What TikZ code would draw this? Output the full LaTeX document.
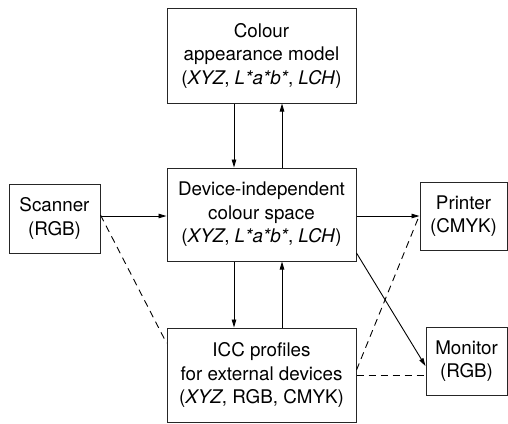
\documentclass[tikz,border=0pt]{standalone}
\usepackage{fontspec}
\setmainfont{TeX Gyre Heros}
\usetikzlibrary{arrows.meta}
\begin{document}
\begin{tikzpicture}[x=1pt,y=-1pt,
  box/.style={draw=black!85,line width=1pt,align=center,inner sep=0pt,
    font=\fontsize{18.8}{23.5}\selectfont},
  conn/.style={line width=0.9pt,-{Triangle[length=8pt,width=4.5pt]}},
  dconn/.style={line width=0.9pt,dash pattern=on 7pt off 5pt}]
\useasboundingbox (0,0) rectangle (508,423);
\node[box,minimum width=189pt,minimum height=95pt] (top) at (261.5,55.5)
  {Colour\\appearance model\\(\textit{XYZ}, \textit{L*a*b*}, \textit{LCH})};
\node[box,minimum width=189pt,minimum height=93pt] (mid) at (261.5,214.5)
  {Device-independent\\colour space\\(\textit{XYZ}, \textit{L*a*b*}, \textit{LCH})};
\node[box,minimum width=189pt,minimum height=94pt] (icc) at (261.5,375)
  {ICC profiles\\for external devices\\(\textit{XYZ}, RGB, CMYK)};
\node[box,minimum width=91pt,minimum height=69pt] (scan) at (54.5,218.5)
  {Scanner\\(RGB)};
\node[box,minimum width=87pt,minimum height=68pt] (prn) at (463.5,216)
  {Printer\\(CMYK)};
\node[box,minimum width=81pt,minimum height=68pt] (mon) at (466.5,361)
  {Monitor\\(RGB)};
% vertical pairs
\draw[conn] (top.south -| 234,0) -- (mid.north -| 234,0);
\draw[conn] (mid.north -| 282,0) -- (top.south -| 282,0);
\draw[conn] (mid.south -| 234,0) -- (icc.north -| 234,0);
\draw[conn] (icc.north -| 282,0) -- (mid.south -| 282,0);
% horizontal
\draw[conn] (scan.east |- 0,216) -- (mid.west |- 0,216);
\draw[conn] (mid.east |- 0,216) -- (prn.west |- 0,216);
\draw[conn] (mid.east |- 0,253) -- (mon.west |- 0,366);
% dashed
\draw[dconn] (scan.east |- 0,215) -- (icc.west |- 0,343);
\draw[dconn] (icc.east |- 0,370) -- (prn.west |- 0,215);
\draw[dconn] (icc.east |- 0,375) -- (mon.west |- 0,375);
\end{tikzpicture}
\end{document}
